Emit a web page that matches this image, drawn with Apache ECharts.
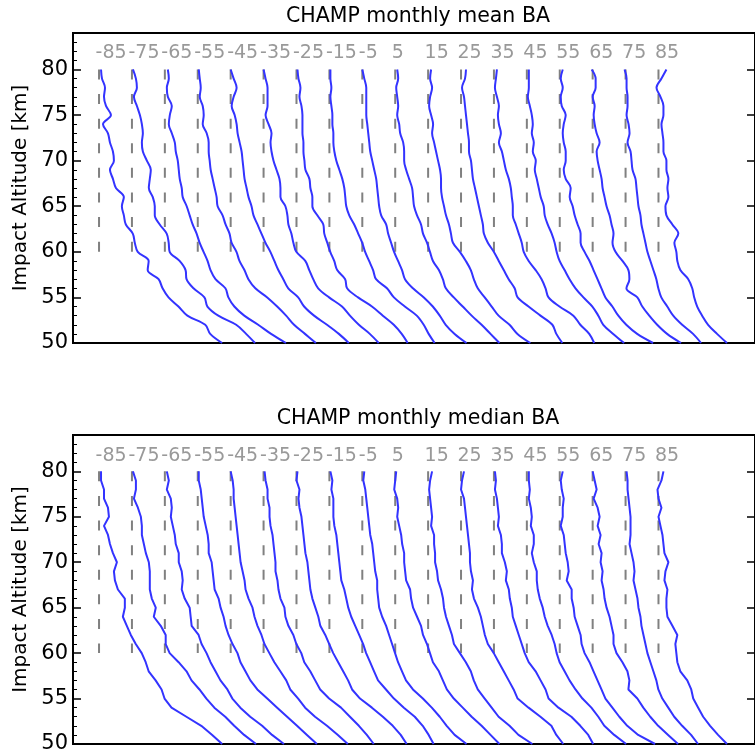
<!DOCTYPE html>
<html><head><meta charset="utf-8">
<script src="https://cdn.jsdelivr.net/npm/echarts@6/dist/echarts.min.js"></script>
<style>html,body{margin:0;padding:0;background:#fff}#c{width:755px;height:755px}</style>
</head><body><div id="c"></div>
<script>
// latitude bins (profile offsets) and their labels
const LATITUDES = [-85,-75,-65,-55,-45,-35,-25,-15,-5,5,15,25,35,45,55,65,75,85];
const LAT_LABELS = ['-85','-75','-65','-55','-45','-35','-25','-15','-5','5','15','25','35','45','55','65','75','85'];
// impact altitudes [km] at which each profile is sampled
const ALTITUDES = [80,79,78,77,76,75,74,73,72,71,70,69,68,67,66,65,64,63,62,61,60,59,58,57,56,55,54,53,52,51,50];
// y tick labels
const Y_TICKS = [50,55,60,65,70,75,80];
const Y_MINOR = [51,52,53,54,56,57,58,59,61,62,63,64,66,67,68,69,71,72,73,74,76,77,78,79,81,82,83];
// reference dashed segments (altitude range)
const REF_ALT = [80,60];

// monthly mean bending-angle profiles (offset from each latitude's reference line), one row per latitude
const MEAN_BA = [
 [2,3,6,5,7,12,4,9,11,14,15,11,14,17,25,23,25,27,34,36,39,50,49,60,64,70,80,89,107,112,124],
 [1,4,5,2,5,8,10,11,10,11,15,19,18,17,21,23,23,28,35,37,38,48,54,55,62,73,76,87,105,115,124],
 [3,4,2,3,7,5,4,7,10,11,13,14,15,17,18,22,25,28,32,35,39,43,46,51,61,64,70,80,94,107,122],
 [1,2,3,2,5,6,5,9,11,11,12,13,15,17,19,20,25,28,32,34,39,42,47,51,58,70,80,89,97,108,119],
 [0,3,6,3,1,4,6,7,9,11,12,13,14,16,18,21,23,27,31,35,40,44,48,53,58,68,74,84,97,109,119],
 [0,2,4,4,4,2,5,8,7,8,10,13,16,17,17,22,24,25,28,30,33,42,46,50,55,66,79,87,96,107,116],
 [1,2,4,3,5,6,6,6,7,7,8,9,13,14,16,16,21,27,28,31,34,38,41,49,51,62,76,87,98,106,112],
 [1,1,2,1,2,3,3,4,4,5,7,10,13,15,16,17,20,25,29,33,36,40,44,47,58,65,76,88,95,100,106],
 [0,2,4,4,4,4,5,6,7,8,10,12,14,15,16,17,19,24,26,29,32,36,40,43,51,62,71,78,84,93,105],
 [2,3,1,2,3,2,4,5,8,9,9,11,14,17,18,19,22,26,28,32,35,38,44,48,51,59,68,77,87,96,105],
 [3,2,4,2,1,3,5,4,6,8,10,12,13,13,14,16,18,21,23,25,32,38,43,46,50,57,64,71,82,90,103],
 [5,4,1,3,4,5,6,7,8,8,10,11,12,14,16,18,20,22,23,27,33,38,43,48,54,57,68,80,92,96,102],
 [3,2,1,3,5,4,5,7,5,8,10,12,15,17,18,19,19,22,25,28,30,35,42,48,52,55,66,80,87,96,101],
 [2,2,2,1,3,5,6,5,7,6,9,8,10,12,14,17,18,21,25,28,30,33,38,43,49,57,66,72,77,87,98],
 [3,1,3,1,2,6,4,3,4,6,6,4,6,11,10,13,15,18,21,21,25,30,34,38,42,46,53,59,67,78,94],
 [-1,3,3,0,2,1,2,4,7,4,5,7,9,10,12,14,17,19,21,20,23,30,36,37,34,45,50,57,65,75,89],
 [-1,1,1,2,2,1,3,4,2,5,6,7,10,11,12,13,15,16,18,20,22,25,28,31,33,36,42,48,57,68,76],
 [8,3,-2,2,5,5,3,4,5,5,8,8,10,9,10,7,8,14,20,16,18,19,22,30,34,36,39,44,50,59,69]
];
// monthly median bending-angle profiles
const MEDIAN_BA = [
 [2,2,5,5,9,10,5,9,11,14,18,15,16,19,26,26,24,28,32,37,43,47,50,57,63,66,73,88,103,114,124],
 [1,4,4,2,6,9,10,10,12,14,17,18,18,18,20,24,22,29,34,34,38,47,55,60,68,75,83,94,103,113,125],
 [2,4,2,6,7,6,8,10,11,14,14,17,18,17,20,25,26,27,34,37,42,46,51,56,63,68,76,86,98,108,120],
 [1,1,3,4,5,6,8,10,11,11,14,15,16,17,21,23,26,28,31,35,40,43,48,53,60,70,80,90,100,110,120],
 [0,2,3,3,4,5,6,7,8,9,10,12,14,15,18,22,24,27,31,34,39,44,50,56,60,68,75,85,97,108,118],
 [1,2,4,4,6,6,7,9,10,11,12,12,14,15,17,21,22,25,30,33,38,41,47,52,57,66,78,87,96,104,111],
 [1,0,3,2,3,5,6,7,8,9,11,12,13,14,16,19,22,24,29,33,37,42,47,52,56,64,76,87,97,105,111],
 [1,3,2,4,4,4,5,7,8,9,10,11,12,15,17,19,22,26,30,34,37,41,45,49,57,65,75,86,94,100,105],
 [2,1,3,4,5,6,7,8,10,11,12,13,15,15,16,17,20,24,27,30,33,36,40,44,51,61,70,78,85,93,105],
 [1,0,-1,2,3,2,4,6,7,9,9,10,11,15,16,18,22,26,28,32,35,38,44,48,52,59,68,77,87,96,105],
 [4,2,1,2,3,4,3,6,6,7,7,9,10,13,15,16,18,21,24,26,32,38,43,46,50,57,64,71,82,91,105],
 [3,1,0,3,4,5,6,7,8,9,9,10,12,11,13,17,20,22,24,27,33,38,43,48,53,57,68,80,91,96,103],
 [1,2,1,3,4,5,4,7,8,8,11,13,12,15,16,18,19,22,25,28,31,35,42,47,52,55,65,78,87,95,100],
 [2,2,3,2,4,5,4,7,7,5,7,10,10,11,13,16,18,21,25,28,30,33,38,43,49,56,65,72,78,88,100],
 [3,1,2,4,3,3,1,4,5,6,8,9,7,12,12,14,15,18,21,22,25,30,34,38,42,46,53,60,68,79,96],
 [0,2,4,1,5,7,5,8,6,9,8,10,9,11,12,14,17,19,21,21,24,30,35,37,36,45,51,58,66,76,86],
 [1,2,2,3,4,5,5,5,4,6,8,9,8,10,12,13,15,16,18,20,22,25,28,31,33,37,43,49,57,66,73],
 [5,3,-1,0,3,0,2,4,5,6,10,7,6,9,8,8,9,14,19,17,18,19,22,29,33,35,40,45,52,60,69]
];
const PANEL_TITLES = ['CHAMP monthly mean BA', 'CHAMP monthly median BA'];

// layout constants
const LAT_SCALE = 3.315;          // x-axis units per degree of latitude offset
const X_MIN = -308, X_MAX = 379;
const GRIDS = [{top: 33, height: 310}, {top: 435, height: 309}];
const FONT = 'DejaVu Sans';
const BLUE = '#3333ff';

const chart = echarts.init(document.getElementById('c'), null, {renderer: 'canvas'});

const grid = GRIDS.map(g => ({left: 73, width: 687, top: g.top, height: g.height,
  show: true, borderColor: '#000', borderWidth: 2, backgroundColor: 'transparent', containLabel: false}));

const xAxis = GRIDS.map((g, p) => ({gridIndex: p, type: 'value', min: X_MIN, max: X_MAX,
  axisLine: {show: false, onZero: false}, axisTick: {show: false}, axisLabel: {show: false}, splitLine: {show: false}}));

const yAxis = [];
GRIDS.forEach((g, p) => {
  const base = {gridIndex: p, type: 'value', min: 50, max: 84, splitLine: {show: false}, axisLine: {show: false, onZero: false}};
  yAxis.push(Object.assign({}, base, {position: 'left',
    axisTick: {show: true, inside: true, length: 8, lineStyle: {color: '#000', width: 1.5}, customValues: Y_TICKS},
    axisLabel: {show: true, customValues: Y_TICKS, fontSize: 21, color: '#000', fontFamily: FONT, margin: 5},
    name: 'Impact Altitude [km]', nameLocation: 'middle', nameGap: 41,
    nameTextStyle: {fontSize: 20, color: '#000', fontFamily: FONT}}));
  yAxis.push(Object.assign({}, base, {position: 'left',
    axisTick: {show: true, inside: true, length: 4, lineStyle: {color: '#000', width: 1}, customValues: Y_MINOR},
    axisLabel: {show: false}}));
  yAxis.push(Object.assign({}, base, {position: 'right',
    axisTick: {show: true, inside: true, length: 8, lineStyle: {color: '#000', width: 1.5}, customValues: Y_TICKS},
    axisLabel: {show: false}}));
});

const series = [];
[MEAN_BA, MEDIAN_BA].forEach((profiles, p) => {
  const yIdx = p * 3;
  LATITUDES.forEach((lat, i) => {
    const x0 = lat * LAT_SCALE;
    series.push({type: 'line', xAxisIndex: p, yAxisIndex: yIdx, z: 2, silent: true,
      data: REF_ALT.map(a => [x0, a]), symbol: 'none',
      lineStyle: {color: '#808080', width: 2, type: [10, 14.6]}});
    series.push({type: 'line', xAxisIndex: p, yAxisIndex: yIdx, z: 3, silent: true,
      data: ALTITUDES.map((a, k) => [x0 + profiles[i][k], a]),
      symbol: 'none', smooth: p === 0 ? 0.35 : false,
      lineStyle: {color: BLUE, width: 2}});
  });
  series.push({type: 'scatter', xAxisIndex: p, yAxisIndex: yIdx, symbolSize: 0, silent: true, z: 4,
    data: LATITUDES.map((lat, i) => ({value: [lat * LAT_SCALE, 80], name: LAT_LABELS[i]})),
    label: {show: true, position: 'inside', formatter: d => d.name, align: 'left', verticalAlign: 'middle',
      offset: [-3.5, p === 0 ? -16 : -15.5], fontSize: 19, color: '#808080', fontFamily: FONT}});
});

const graphic = GRIDS.map((g, p) => ({type: 'text', x: 418, y: g.top - 16,
  style: {text: PANEL_TITLES[p], align: 'center', verticalAlign: 'middle', font: '20.5px "' + FONT + '"', fill: '#000'}}));

chart.setOption({animation: false, backgroundColor: '#fff', grid, xAxis, yAxis, series, graphic});
</script></body></html>
